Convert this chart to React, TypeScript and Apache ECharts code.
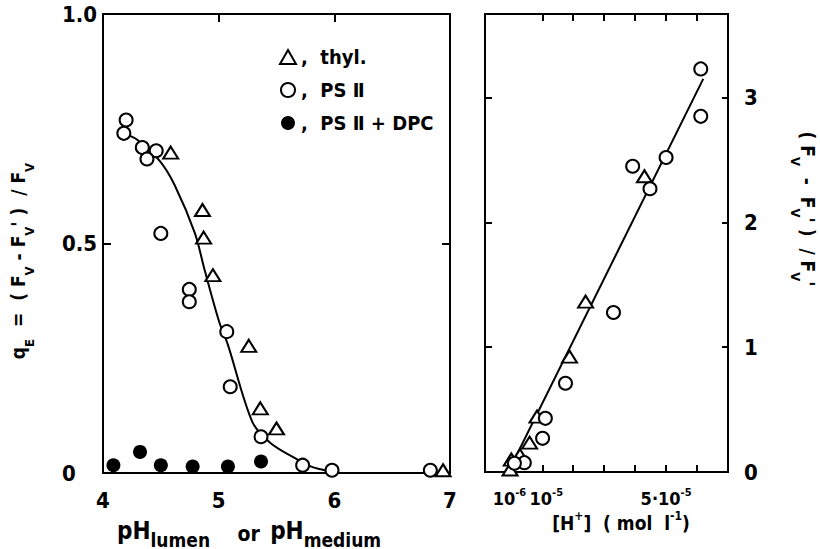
import React, { useEffect, useRef } from "react";
import * as echarts from "echarts";

// ---- Data ----
// Left panel: q_E vs pH
const leftThyl: number[][] = [
  [4.585, 0.698], [4.86, 0.573], [4.87, 0.513], [4.95, 0.431],
  [5.26, 0.277], [5.36, 0.141], [5.5, 0.097], [6.94, 0.006],
];
const leftPS2: number[][] = [
  [4.2, 0.769], [4.18, 0.74], [4.34, 0.709], [4.46, 0.702], [4.38, 0.684],
  [4.5, 0.522], [4.746, 0.4], [4.746, 0.373], [5.07, 0.308], [5.1, 0.188],
  [5.366, 0.079], [5.726, 0.017], [5.98, 0.006], [6.83, 0.006],
];
const leftDPC: number[][] = [
  [4.09, 0.017], [4.32, 0.046], [4.5, 0.017], [4.775, 0.014], [5.08, 0.014], [5.366, 0.025],
];
const leftFit: number[][] = [
  [4.18, 0.74], [4.29, 0.727], [4.49, 0.68], [4.62, 0.627], [4.795, 0.522],
  [4.88, 0.441], [5.005, 0.329], [5.08, 0.279], [5.29, 0.112], [5.45, 0.065],
  [5.69, 0.028], [5.8, 0.014], [5.9, 0.007], [6.0, 0.003],
];
const leftXTicks = [4, 5, 6, 7];
const leftYTicks = [0, 0.5, 1.0];

// Right panel: (Fv - Fv')/Fv' vs [H+] (x in units of 1e-5 mol/l)
const rightThyl: number[][] = [
  [4.3, 2.37], [2.4, 1.366], [1.88, 0.925], [0.83, 0.444], [0.59, 0.235],
  [0.28, 0.136], [0.0, 0.1], [-0.04, 0.02],
];
const rightPS2: number[][] = [
  [6.12, 3.23], [6.12, 2.85], [5.0, 2.52], [3.92, 2.45], [4.48, 2.27],
  [3.3, 1.278], [1.75, 0.711], [1.1, 0.43], [1.01, 0.27], [0.42, 0.075], [0.1, 0.07],
];
const rightFit: number[][] = [[-0.1, 0], [6.2, 3.15]];
const rightXTickValues = [1, 2, 3, 4, 5, 6, 7];
const rightXLabelValuesA = [0.1, 5]; // 10^-6 and 5·10^-5
const rightXLabelValuesB = [1]; // 10^-5
const rightXLabelText: Record<string, string> = {
  "0.1": "{b|10}{ls|-6}",
  "1": "{r|10}{s|-5}",
  "5": "{b|5·10}{s|-5}",
};
const rightYLabelValues = [0, 1, 2, 3];
const rightYTickValues = [1, 2, 3];

const FONT = "'DejaVu Sans Condensed', 'DejaVu Sans', sans-serif";

export default function App() {
  const ref = useRef<HTMLDivElement>(null);
  useEffect(() => {
    if (!ref.current) return;
    const chart = echarts.init(ref.current, undefined, { renderer: "svg" });
    const lbl = { color: "#000", fontFamily: FONT, fontWeight: "bold" as const, fontSize: 22 };
    const tickStyle = { color: "#000", width: 2 };
    const tickInside = (len: number) => ({ show: true, inside: true, length: len, lineStyle: tickStyle });
    const noLine = () => ({ show: false, onZero: false });
    const openSym = { color: "#fff", borderColor: "#000", borderWidth: 2, opacity: 1 };
    const supBase = { fontFamily: FONT, fontWeight: "bold", color: "#000" };
    const hRich = {
      b: { ...supBase, fontSize: 18, lineHeight: 20, verticalAlign: "bottom" },
      s: { ...supBase, fontSize: 11, lineHeight: 12, verticalAlign: "top" },
      ls: { ...supBase, fontSize: 11, lineHeight: 12, verticalAlign: "top", padding: [0, 10, 0, 0] },
      r: { ...supBase, fontSize: 18, lineHeight: 20, verticalAlign: "bottom", padding: [0, 0, 0, 8] },
    };
    const hFormatter = (v: number) => rightXLabelText[String(Math.round(v * 10) / 10)] || "";

    const option: any = {
      animation: false,
      backgroundColor: "#fff",
      grid: [
        { left: 103, top: 14, width: 347, height: 459, show: true, borderColor: "#000", borderWidth: 2, backgroundColor: "transparent" },
        { left: 485, top: 14, width: 243, height: 458, show: true, borderColor: "#000", borderWidth: 2, backgroundColor: "transparent" },
      ],
      xAxis: [
        {
          gridIndex: 0, type: "value", min: 4, max: 7, interval: 1, position: "bottom",
          axisLine: noLine(), splitLine: { show: false }, axisTick: { show: false },
          axisLabel: { ...lbl, margin: 16, customValues: leftXTicks },
        },
        {
          gridIndex: 0, type: "value", min: 4, max: 7, interval: 1, position: "top",
          axisLine: noLine(), splitLine: { show: false }, axisTick: tickInside(8),
          axisLabel: { show: false },
        },
        {
          gridIndex: 1, type: "value", min: -0.85, max: 7, position: "bottom",
          axisLine: noLine(), splitLine: { show: false },
          axisTick: { ...tickInside(7), customValues: rightXTickValues },
          axisLabel: {
            ...lbl, margin: 15, customValues: rightXLabelValuesA, hideOverlap: false,
            showMinLabel: true, showMaxLabel: true, formatter: hFormatter, rich: hRich,
          },
        },
        {
          gridIndex: 1, type: "value", min: -0.85, max: 7, position: "top",
          axisLine: noLine(), splitLine: { show: false },
          axisTick: { ...tickInside(7), customValues: rightXTickValues },
          axisLabel: { show: false },
        },
        {
          gridIndex: 1, type: "value", min: -0.85, max: 7, position: "bottom",
          axisLine: noLine(), splitLine: { show: false }, axisTick: { show: false },
          axisLabel: {
            ...lbl, margin: 15, customValues: rightXLabelValuesB, hideOverlap: false,
            showMinLabel: true, showMaxLabel: true, formatter: hFormatter, rich: hRich,
          },
        },
      ],
      yAxis: [
        {
          gridIndex: 0, type: "value", min: 0, max: 1, interval: 0.5, position: "left",
          axisLine: noLine(), splitLine: { show: false }, axisTick: tickInside(8),
          axisLabel: {
            ...lbl, align: "left", margin: 41, customValues: leftYTicks,
            formatter: (v: number) => (v === 0 ? "0" : v.toFixed(1)),
          },
        },
        {
          gridIndex: 0, type: "value", min: 0, max: 1, interval: 0.5, position: "right",
          axisLine: noLine(), splitLine: { show: false }, axisTick: tickInside(8),
          axisLabel: { show: false },
        },
        {
          gridIndex: 1, type: "value", min: 0, max: 3.67, position: "right",
          axisLine: noLine(), splitLine: { show: false },
          axisTick: { ...tickInside(6), customValues: rightYTickValues },
          axisLabel: { ...lbl, margin: 16, customValues: rightYLabelValues },
        },
        {
          // ticks on the left edge of the right panel
          gridIndex: 1, type: "value", min: 0, max: 3.67, position: "right", offset: -243,
          axisLine: noLine(), splitLine: { show: false },
          axisTick: { show: true, inside: false, length: 7, lineStyle: tickStyle, customValues: rightYTickValues },
          axisLabel: { show: false },
        },
      ],
      legend: {
        data: ["thyl.", "PS Ⅱ", "PS Ⅱ + DPC"],
        orient: "vertical", left: 279, top: 47, padding: 0, itemWidth: 16, itemHeight: 14, itemGap: 13,
        formatter: (n: string) => ",  " + n,
        textStyle: { color: "#000", fontFamily: FONT, fontWeight: "bold", fontSize: 20, lineHeight: 20 },
        selectedMode: false,
      },
      series: [
        {
          type: "line", xAxisIndex: 0, yAxisIndex: 0, data: leftFit, smooth: 0.3, symbol: "none",
          lineStyle: { color: "#000", width: 2 }, z: 1, silent: true,
        },
        {
          type: "line", xAxisIndex: 2, yAxisIndex: 2, data: rightFit, symbol: "none",
          lineStyle: { color: "#000", width: 2 }, z: 1, silent: true,
        },
        { name: "thyl.", type: "scatter", xAxisIndex: 0, yAxisIndex: 0, data: leftThyl, symbol: "triangle", symbolSize: [15, 12], itemStyle: openSym, z: 3 },
        { name: "PS Ⅱ", type: "scatter", xAxisIndex: 0, yAxisIndex: 0, data: leftPS2, symbol: "circle", symbolSize: 13, itemStyle: openSym, z: 3 },
        { name: "PS Ⅱ + DPC", type: "scatter", xAxisIndex: 0, yAxisIndex: 0, data: leftDPC, symbol: "circle", symbolSize: 14, itemStyle: { color: "#000", opacity: 1 }, z: 3 },
        { name: "thyl.", type: "scatter", xAxisIndex: 2, yAxisIndex: 2, data: rightThyl, symbol: "triangle", symbolSize: [15, 12], itemStyle: openSym, z: 3 },
        { name: "PS Ⅱ", type: "scatter", xAxisIndex: 2, yAxisIndex: 2, data: rightPS2, symbol: "circle", symbolSize: 13, itemStyle: openSym, z: 3 },
      ],
      graphic: [
        {
          type: "text", x: 117, y: 519,
          style: {
            text: "{m|pH}{s|lumen}{g|        }{o|or}{g|   }{m|pH}{s|medium}",
            verticalAlign: "top",
            rich: {
              m: { fontSize: 24, fontFamily: FONT, fontWeight: "bold", fill: "#000", lineHeight: 30, verticalAlign: "top" },
              s: { fontSize: 19, fontFamily: FONT, fontWeight: "bold", fill: "#000", lineHeight: 20, verticalAlign: "bottom" },
              o: { fontSize: 21, fontFamily: FONT, fontWeight: "bold", fill: "#000", lineHeight: 24, verticalAlign: "middle" },
              g: { fontSize: 12, fontFamily: FONT, fill: "#000" },
            },
          },
        },
        {
          type: "text", x: 621, y: 521,
          style: {
            text: "{m|[H}{s|+}{m|]  ( mol  l}{s|-1}{m|)}",
            align: "center", verticalAlign: "middle",
            rich: {
              m: { fontSize: 19, fontFamily: FONT, fontWeight: "bold", fill: "#000", lineHeight: 22, verticalAlign: "bottom" },
              s: { fontSize: 12, fontFamily: FONT, fontWeight: "bold", fill: "#000", lineHeight: 12, verticalAlign: "top" },
            },
          },
        },
        {
          type: "text", x: 22, y: 261, rotation: Math.PI / 2,
          style: {
            text: "{m|q}{s|E}{m|  =  ( F}{s|V}{m| - F}{s|V}{m|' )  / F}{s|V}",
            align: "center", verticalAlign: "middle",
            rich: {
              m: { fontSize: 19, fontFamily: FONT, fontWeight: "bold", fill: "#000", lineHeight: 28, verticalAlign: "top" },
              s: { fontSize: 13, fontFamily: FONT, fontWeight: "bold", fill: "#000", lineHeight: 15, verticalAlign: "bottom" },
            },
          },
        },
        {
          type: "text", x: 803, y: 209, rotation: -Math.PI / 2,
          style: {
            text: "{m|( F}{s|V}{m|  -  F}{s|V}{m|' )  / F}{s|V}{m|'}",
            align: "center", verticalAlign: "middle",
            rich: {
              m: { fontSize: 19, fontFamily: FONT, fontWeight: "bold", fill: "#000", lineHeight: 28, verticalAlign: "top" },
              s: { fontSize: 13, fontFamily: FONT, fontWeight: "bold", fill: "#000", lineHeight: 15, verticalAlign: "bottom" },
            },
          },
        },
      ],
    };
    chart.setOption(option);
    return () => chart.dispose();
  }, []);
  return <div ref={ref} style={{ width: 820, height: 549, position: "absolute", left: 0, top: 0 }} />;
}
